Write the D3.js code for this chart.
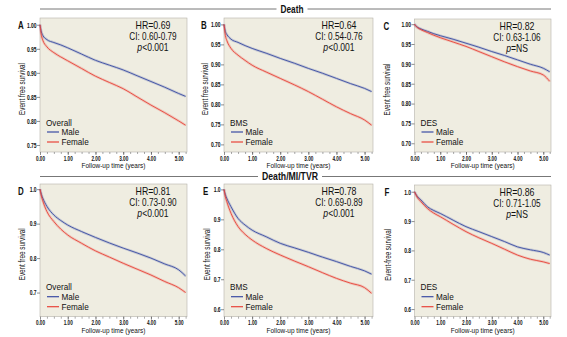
<!doctype html>
<html>
<head>
<meta charset="utf-8">
<title>Survival by sex</title>
<script src="https://cdn.jsdelivr.net/npm/d3@7"></script>
<style>
  body { margin: 0; background: #fff; }
  svg { display: block; }
  text { font-family: "Liberation Sans", Arial, sans-serif; fill: #111; }
</style>
</head>
<body>
<div id="chart"></div>
<script>
  // follow-up time points (years)
  var times = [0, 0.05, 0.1, 0.25, 0.5, 0.75, 1, 1.5, 2, 2.5, 3, 3.5, 4, 4.5, 5, 5.25];

  // Death
  var deathAllMale   = [1.0, 0.985, 0.978, 0.969, 0.963, 0.958, 0.952, 0.939, 0.926, 0.916, 0.906, 0.894, 0.882, 0.870, 0.857, 0.851];
  var deathAllFemale = [1.0, 0.978, 0.968, 0.954, 0.942, 0.933, 0.925, 0.909, 0.893, 0.880, 0.867, 0.850, 0.833, 0.817, 0.800, 0.791];
  var deathBmsMale   = [1.0, 0.982, 0.975, 0.963, 0.955, 0.947, 0.940, 0.928, 0.915, 0.903, 0.890, 0.878, 0.865, 0.852, 0.840, 0.832];
  var deathBmsFemale = [1.0, 0.972, 0.960, 0.940, 0.923, 0.910, 0.898, 0.881, 0.865, 0.849, 0.832, 0.813, 0.794, 0.777, 0.761, 0.748];
  var deathDesMale   = [1.0, 0.996, 0.993, 0.988, 0.982, 0.976, 0.971, 0.962, 0.952, 0.942, 0.931, 0.921, 0.910, 0.899, 0.889, 0.880];
  var deathDesFemale = [1.0, 0.995, 0.992, 0.986, 0.979, 0.972, 0.966, 0.955, 0.944, 0.931, 0.918, 0.905, 0.893, 0.882, 0.872, 0.856];

  // Death/MI/TVR
  var mtAllMale   = [1.0, 0.985, 0.974, 0.950, 0.925, 0.909, 0.896, 0.877, 0.860, 0.844, 0.829, 0.815, 0.800, 0.783, 0.766, 0.748];
  var mtAllFemale = [1.0, 0.980, 0.966, 0.935, 0.906, 0.884, 0.867, 0.843, 0.821, 0.803, 0.785, 0.768, 0.751, 0.732, 0.714, 0.700];
  var mtBmsMale   = [1.0, 0.982, 0.970, 0.942, 0.903, 0.881, 0.864, 0.842, 0.820, 0.805, 0.790, 0.774, 0.759, 0.743, 0.728, 0.717];
  var mtBmsFemale = [1.0, 0.975, 0.959, 0.920, 0.876, 0.850, 0.831, 0.803, 0.781, 0.761, 0.742, 0.722, 0.703, 0.687, 0.672, 0.653];
  var mtDesMale   = [1.0, 0.992, 0.985, 0.972, 0.949, 0.936, 0.926, 0.903, 0.881, 0.864, 0.847, 0.830, 0.812, 0.802, 0.793, 0.784];
  var mtDesFemale = [1.0, 0.990, 0.982, 0.966, 0.943, 0.927, 0.915, 0.889, 0.864, 0.843, 0.824, 0.804, 0.784, 0.770, 0.761, 0.755];

  var xTicks = [0, 1, 2, 3, 4, 5];
  var yTicksDeathA = [0.75, 0.80, 0.85, 0.90, 0.95, 1.00];
  var yTicksDeath = [0.70, 0.75, 0.80, 0.85, 0.90, 0.95, 1.00];
  var yTicksMt = [0.6, 0.7, 0.8, 0.9, 1.0];

  var groupLabels = ['Overall', 'BMS', 'DES'];
  var hrText = ['HR=0.69', 'HR=0.64', 'HR=0.82', 'HR=0.81', 'HR=0.78', 'HR=0.86'];
  var ciText = ['CI: 0.60-0.79', 'CI: 0.54-0.76', 'CI: 0.63-1.06', 'CI: 0.73-0.90', 'CI: 0.69-0.89', 'CI: 0.71-1.05'];
  var pText = ['<0.001', '<0.001', '=NS', '<0.001', '<0.001', '=NS'];

  var W = 567, H = 337;
  var svg = d3.select('#chart').append('svg')
      .attr('width', W)
      .attr('height', H);

  var panels = [
    {id: 'A', male: deathAllMale, female: deathAllFemale, group: 0, x0: 40, x1: 187, y0: 18, y1: 152, yd: [0.7354, 1.014], yt: yTicksDeathA, fmt: '.2f', lab: 'Event free survival', lo: 19},
    {id: 'B', male: deathBmsMale, female: deathBmsFemale, group: 1, x0: 224, x1: 373, y0: 18, y1: 152, yd: [0.681, 1.016], yt: yTicksDeath, fmt: '.2f', lab: 'Event free survival', lo: 20},
    {id: 'C', male: deathDesMale, female: deathDesFemale, group: 2, x0: 414.5, x1: 551, y0: 19, y1: 152, yd: [0.678, 1.013], yt: yTicksDeath, fmt: '.2f', lab: 'Event free survival', lo: 28},
    {id: 'D', male: mtAllMale, female: mtAllFemale, group: 0, x0: 40, x1: 187, y0: 184, y1: 316.7, yd: [0.630, 1.015], yt: yTicksMt.slice(1), fmt: '.1f', lab: 'Event free survival', lo: 19},
    {id: 'E', male: mtBmsMale, female: mtBmsFemale, group: 1, x0: 224, x1: 373, y0: 184, y1: 316.7, yd: [0.575, 1.018], yt: yTicksMt, fmt: '.1f', lab: 'Event free survival', lo: 18},
    {id: 'F', male: mtDesMale, female: mtDesFemale, group: 2, x0: 414.5, x1: 551, y0: 185, y1: 316.7, yd: [0.574, 1.023], yt: yTicksMt, fmt: '.1f', lab: 'Event-free survival', lo: 27}
  ];

  var blue = '#3a4ca3', red = '#e8443a';

  // text squeezed horizontally; width: target width in px, or sx: fixed scale
  function label(parent, x, y, str, o) {
    var t = parent.append('text')
        .attr('font-size', o.size + 'px')
        .attr('font-weight', o.bold ? 'bold' : null)
        .attr('text-anchor', o.anchor || 'start')
        .text(str);
    var sx = o.sx || 1;
    if (o.width) sx = o.width / t.node().getComputedTextLength();
    var tr = 'translate(' + x + ',' + y + ')';
    if (o.rotate) tr += ' rotate(' + o.rotate + ')';
    t.attr('transform', tr + ' scale(' + sx + ',1)');
    return t;
  }

  // section headers
  function header(str, y, cx, w) {
    label(svg, cx, y + 3.8, str, {size: 11, bold: true, anchor: 'middle', width: w});
    var half = w / 2 + 4;
    svg.append('line').attr('x1', 40).attr('x2', cx - half).attr('y1', y).attr('y2', y)
        .attr('stroke', '#777').attr('stroke-width', 1);
    svg.append('line').attr('x1', cx + half).attr('x2', 551).attr('y1', y).attr('y2', y)
        .attr('stroke', '#777').attr('stroke-width', 1);
  }
  header('Death', 9, 292, 23);
  header('Death/MI/TVR', 176.5, 290, 56);

  panels.forEach(function(p, i) {
    var x = d3.scaleLinear().domain([0, 5.3]).range([p.x0, p.x1]);
    var y = d3.scaleLinear().domain(p.yd).range([p.y1, p.y0]);
    var g = svg.append('g');

    g.append('rect')
        .attr('x', p.x0).attr('y', p.y0)
        .attr('width', p.x1 - p.x0).attr('height', p.y1 - p.y0)
        .attr('fill', '#efede1')
        .attr('stroke', '#b5b3aa')
        .attr('stroke-width', 0.6);

    // minor x ticks
    g.append('g')
        .attr('transform', 'translate(0,' + p.y1 + ')')
        .call(d3.axisBottom(x).tickValues(d3.range(0.25, 5.26, 0.25)).tickSize(2).tickFormat(''))
        .call(function(a) { a.select('.domain').remove(); })
        .selectAll('line').attr('stroke', '#555').attr('stroke-width', 0.5);

    var xa = g.append('g')
        .attr('transform', 'translate(0,' + p.y1 + ')')
        .call(d3.axisBottom(x).tickValues(xTicks).tickSize(3).tickPadding(0.5).tickFormat(d3.format('.2f')));
    xa.select('.domain').remove();
    xa.selectAll('line').attr('stroke', '#444').attr('stroke-width', 0.6);
    xa.selectAll('text').attr('font-size', '7.3px').attr('font-weight', 'bold').attr('fill', '#222')
        .attr('font-family', '"Liberation Sans", Arial, sans-serif')
        .attr('transform', 'scale(0.64,1)');

    var ya = g.append('g')
        .attr('transform', 'translate(' + p.x0 + ',0)')
        .call(d3.axisLeft(y).tickValues(p.yt).tickSize(3).tickPadding(2).tickFormat(d3.format(p.fmt)));
    ya.select('.domain').remove();
    ya.selectAll('line').attr('stroke', '#444').attr('stroke-width', 0.6);
    ya.selectAll('text').attr('font-size', '7.3px').attr('font-weight', 'bold').attr('fill', '#222')
        .attr('font-family', '"Liberation Sans", Arial, sans-serif')
        .attr('transform', 'scale(0.68,1)');

    label(g, (p.x0 + p.x1) / 2, p.y1 + 16.3, 'Follow-up time (years)', {size: 7.6, anchor: 'middle', width: 64});
    label(g, p.x0 - p.lo + 3.5, (p.y0 + p.y1) / 2 + 4, p.lab, {size: 8.5, anchor: 'middle', width: 52, rotate: -90});
    label(g, p.x0 - p.lo - 3, p.y0 + 11, p.id, {size: 11, bold: true, sx: 0.72});

    var line = d3.line()
        .x(function(d, j) { return x(times[j]); })
        .y(function(d) { return y(d); })
        .curve(d3.curveMonotoneX);

    [[p.male, blue], [p.female, red]].forEach(function(s) {
      g.append('path').attr('d', line(s[0])).attr('fill', 'none')
          .attr('stroke', s[1]).attr('stroke-opacity', 0.22).attr('stroke-width', 2.6);
      g.append('path').attr('d', line(s[0])).attr('fill', 'none')
          .attr('stroke', s[1]).attr('stroke-width', 0.9);
    });

    // HR annotation
    var cx = p.x1 - 34;
    var ty = p.y0 + 10.5;
    label(g, cx, ty, hrText[i], {size: 10, anchor: 'middle', sx: 0.88});
    label(g, cx, ty + 11.3, ciText[i], {size: 10, anchor: 'middle', sx: 0.82});
    var pt = label(g, cx, ty + 22.6, '', {size: 10, anchor: 'middle', sx: 0.86});
    pt.append('tspan').attr('font-style', 'italic').text('p');
    pt.append('tspan').text(pText[i]);

    // legend
    var lx = p.x0 + 7;
    label(g, lx - 1, p.y1 - 26.5, groupLabels[p.group], {size: 9.5, sx: 0.86});
    [['Male', blue, p.y1 - 20], ['Female', red, p.y1 - 10]].forEach(function(l) {
      g.append('line').attr('x1', lx).attr('x2', lx + 12).attr('y1', l[2]).attr('y2', l[2])
          .attr('stroke', l[1]).attr('stroke-width', 1.2);
      label(g, lx + 14.5, l[2] + 3.4, l[0], {size: 9.5, sx: 0.86});
    });
  });
</script>
</body>
</html>
